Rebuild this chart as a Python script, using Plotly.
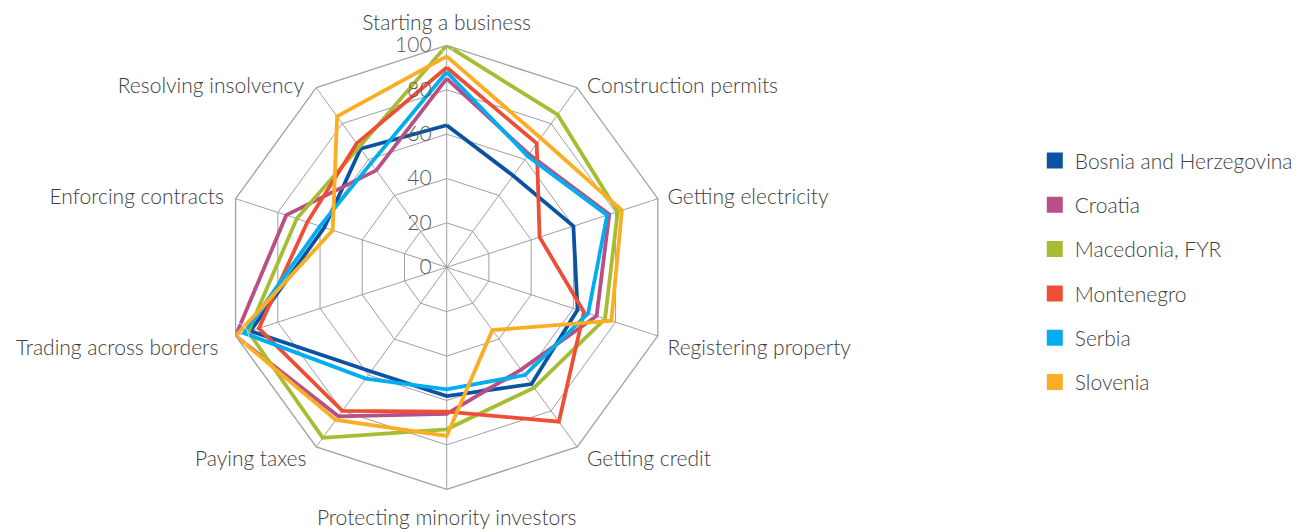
import plotly.graph_objects as go

categories = ["Starting a business", "Construction permits", "Getting electricity",
              "Registering property", "Getting credit", "Protecting minority investors",
              "Paying taxes", "Trading across borders", "Enforcing contracts",
              "Resolving insolvency"]

bosnia = [64, 51, 60, 62, 65, 58, 58, 93, 58, 66]
croatia = [85, 63, 77, 71, 57, 66, 83, 100, 76, 54]
macedonia = [100, 85, 81, 75, 67, 73, 95, 94, 71, 67]
montenegro = [90, 69, 44, 65, 86, 65, 80, 89, 66, 69]
serbia = [88, 62, 76, 67, 60, 55, 62, 96, 60, 58]
slovenia = [95, 72, 83, 78, 35, 76, 85, 100, 54, 84]

series_names = ["Bosnia and Herzegovina", "Croatia", "Macedonia, FYR", "Montenegro", "Serbia", "Slovenia"]
series_values = [bosnia, croatia, macedonia, montenegro, serbia, slovenia]
colors = ["#0B52A3", "#B84F86", "#A8BC33", "#EF4E36", "#00AEEF", "#FBAE24"]

radial_ticks = [0, 20, 40, 60, 80, 100]

# label placement (style): on the outer ring, anchored per direction
label_pos = ["top center", "middle right", "middle right", "middle right", "middle right",
             "bottom center", "middle left", "middle left", "middle left", "middle left"]
label_gap = [14, 14, 14, 14, 14, 30, 14, 26, 17, 18]      # invisible marker sizes -> text offset
label_drop = [False, False, False, True, True, False, True, True, False, False]
label_text = [("<br>" + c) if d else c for c, d in zip(categories, label_drop)]

FONT = "Lato"
fig = go.Figure()

for name, vals, col in zip(series_names, series_values, colors):
    fig.add_trace(go.Scatterpolar(
        r=vals + [vals[0]], theta=categories + [categories[0]],
        mode="lines", line=dict(color=col, width=3.8),
        name=name, legendgroup=name, showlegend=False))

for name, col in zip(series_names, colors):
    fig.add_trace(go.Scatterpolar(
        r=[None], theta=[categories[0]], mode="markers",
        marker=dict(symbol="square", size=18, color=col),
        name=name, legendgroup=name, showlegend=True))

# category labels
fig.add_trace(go.Scatterpolar(
    r=[radial_ticks[-1]] * len(categories), theta=categories, mode="markers+text",
    marker=dict(size=label_gap, color="rgba(0,0,0,0)"),
    text=label_text, textposition=label_pos, cliponaxis=False,
    textfont=dict(size=21, color="#404040", family=FONT, weight=300),
    hoverinfo="skip", showlegend=False))

fig.update_layout(
    width=1308, height=532,
    margin=dict(l=0, r=0, t=0, b=0),
    paper_bgcolor="white",
    font=dict(family=FONT, color="#404040", size=21, weight=300),
    polar=dict(
        domain=dict(x=[0.1657, 0.5051], y=[0.0953, 0.9299]),
        bgcolor="white",
        gridshape="linear",
        angularaxis=dict(
            direction="clockwise", rotation=90,
            linecolor="#A0A0A0", linewidth=1.3,
            gridcolor="#A0A0A0", gridwidth=1.3,
            ticks="", showticklabels=False,
        ),
        radialaxis=dict(
            range=[0, 100], angle=90, side="counterclockwise",
            tickvals=radial_ticks, ticktext=[f"{t}\u00a0\u00a0" for t in radial_ticks],
            tickangle=90,
            showline=False, ticks="",
            gridcolor="#A0A0A0", gridwidth=1.3,
            tickfont=dict(size=21, color="#595959", family=FONT, weight=300),
        ),
    ),
    legend=dict(
        x=0.785, y=0.505, xanchor="left", yanchor="middle",
        font=dict(size=21, color="#404040", family=FONT, weight=300),
        tracegroupgap=14, itemwidth=30,
    ),
    showlegend=True,
)

fig.write_html("out.html")
